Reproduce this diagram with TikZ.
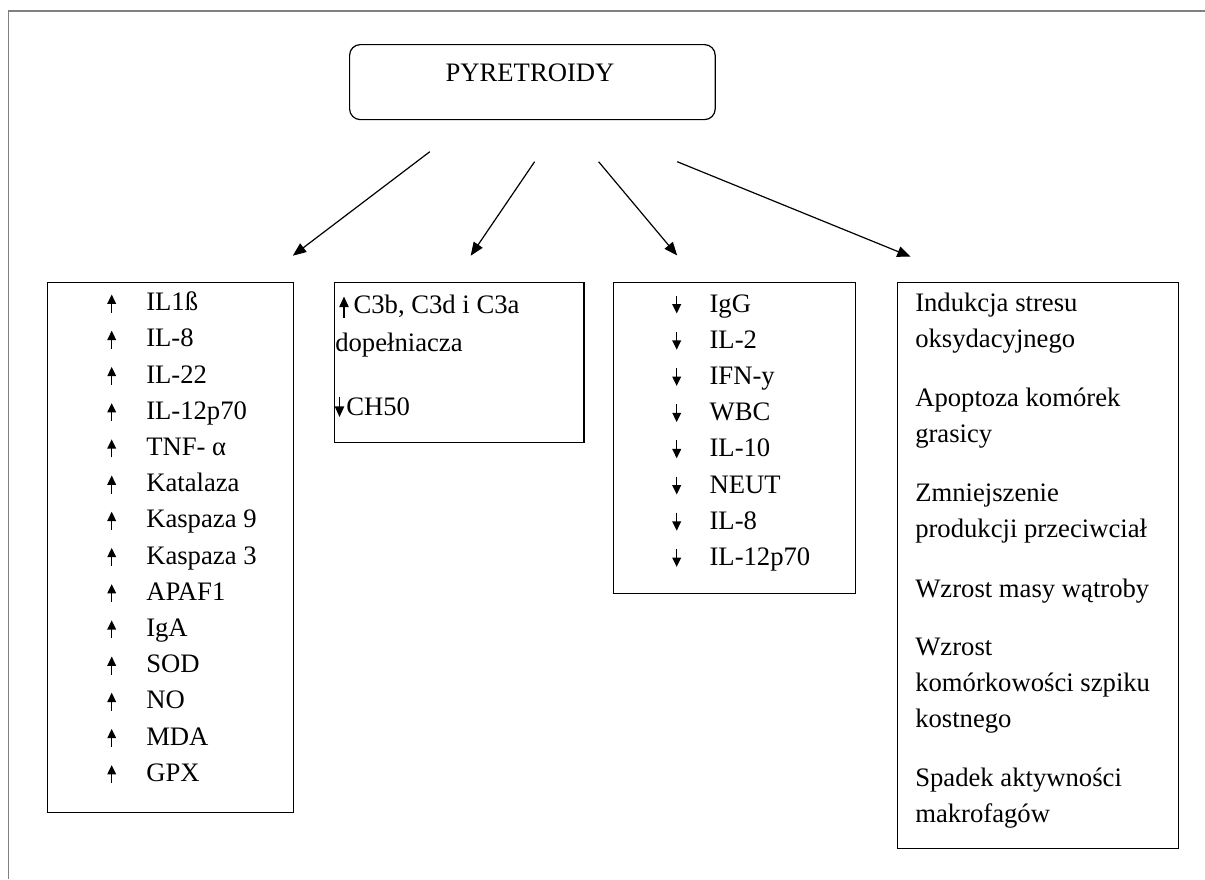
\documentclass[tikz,border=0pt]{standalone}
\usepackage{fontspec}
\setmainfont{Liberation Serif}
\usetikzlibrary{arrows.meta}
\begin{document}
\begin{tikzpicture}[x=0.75pt,y=-0.75pt,
  font=\fontsize{20}{24}\selectfont,
  box/.style={draw, line width=0.9pt, rectangle, inner sep=0pt, anchor=north west},
  conn/.style={line width=0.9pt, -{Triangle[length=10pt,width=8pt]}},
  txt/.style={anchor=base west, inner sep=0pt},
  uparr/.style={line width=1.1pt, -{Triangle[length=7pt,width=6.5pt]}},
  bigarr/.style={line width=1.1pt, -{Triangle[length=8pt,width=7pt]}},
  frame/.style={draw=black!50, line width=1.1pt}
]
\useasboundingbox (0,0) rectangle (1205,879);
\draw[frame] (8.4,879) -- (8.4,11) -- (1205,11);

% top box
\node[box, rounded corners=8pt, minimum width=274.2pt, minimum height=56.25pt] (top) at (349,44) {};
\node[anchor=base, inner sep=0pt] (toplabel) at (530,81.7) {PYRETROIDY};

% result boxes
\node[box, minimum width=184.35pt, minimum height=397.5pt] (b1) at (47,281.7) {};
\node[box, minimum width=187.35pt, minimum height=120pt] (b2) at (333.5,281.7) {};
\node[box, minimum width=181.5pt, minimum height=233.5pt] (b3) at (612.5,281.7) {};
\node[box, minimum width=210.75pt, minimum height=424.7pt] (b4) at (897,281.7) {};

% connectors
\coordinate (a1s) at (429.8,151.7); \coordinate (a1e) at (292.8,255.7);
\coordinate (a2s) at (534.6,161.7); \coordinate (a2e) at (470.7,255.7);
\coordinate (a3s) at (598.6,161.7); \coordinate (a3e) at (677.2,255.5);
\coordinate (a4s) at (677.2,161.7); \coordinate (a4e) at (910.6,256.7);
\draw[conn] (a1s) -- (a1e);
\draw[conn] (a2s) -- (a2e);
\draw[conn] (a3s) -- (a3e);
\draw[conn] (a4s) -- (a4e);

% box 1
\foreach \t [count=\i from 0] in {IL1ß,IL-8,IL-22,IL-12p70,TNF- α,Katalaza,Kaspaza 9,Kaspaza 3,APAF1,IgA,SOD,NO,MDA,GPX}{
  \node[txt] (u\i) at (146,{310.7+36.2*\i}) {\t};
  \draw[uparr] (111.7,{312.5+36.2*\i}) -- (111.7,{294.5+36.2*\i});
}

% box 2
\draw[bigarr] (344,318) -- (344,296.5);
\node[txt] (c1) at (353.3,313.3) {C3b, C3d i C3a};
\node[txt] (c2) at (335,351.7) {dopełniacza};
\draw[bigarr] (339.5,396.5) -- (339.5,417);
\node[txt] (c3) at (346,415) {CH50};

% box 3
\foreach \t [count=\i from 0] in {IgG,IL-2,IFN-y,WBC,IL-10,NEUT,IL-8,IL-12p70}{
  \node[txt] (d\i) at (709.3,{312+36.2*\i}) {\t};
  \draw[uparr] (676.7,{295.5+36.2*\i}) -- (676.7,{313.5+36.2*\i});
}

% box 4
\foreach \t/\y [count=\i] in {Indukcja stresu/311.7, oksydacyjnego/347.9,
  Apoptoza komórek/406.5, grasicy/442.7,
  Zmniejszenie/501.3, produkcji przeciwciał/537.5,
  Wzrost masy wątroby/597,
  Wzrost/655.5, komórkowości szpiku/691.7, kostnego/727.9,
  Spadek aktywności/786, makrofagów/822}{
  \node[txt] (r\i) at (915,\y) {\t};
}
\end{tikzpicture}
\end{document}
